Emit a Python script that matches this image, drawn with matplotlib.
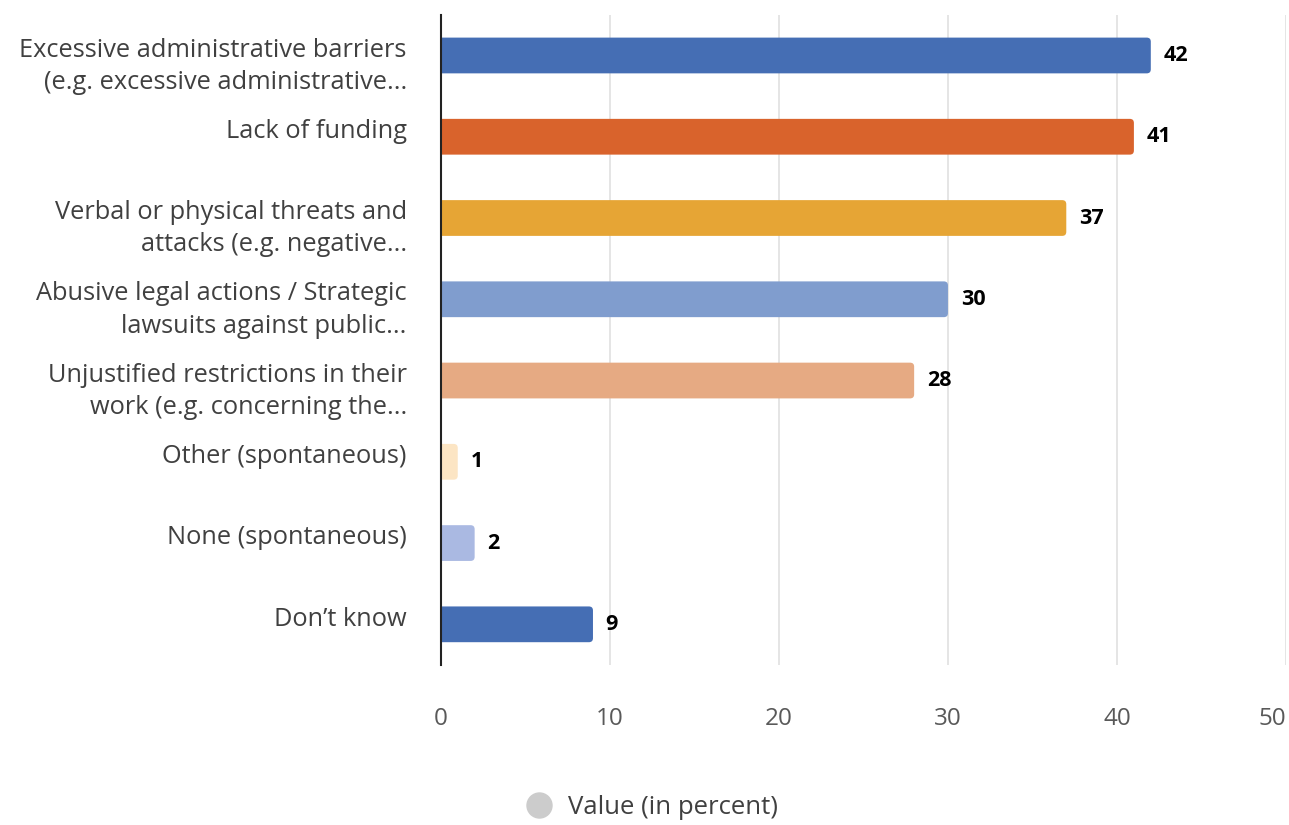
import matplotlib
matplotlib.use("Agg")
import matplotlib.pyplot as plt
import matplotlib.transforms as mtransforms
from matplotlib.lines import Line2D
from matplotlib.patches import FancyBboxPatch

categories = [
    "Excessive administrative barriers\n(e.g. excessive administrative...",
    "Lack of funding",
    "Verbal or physical threats and\nattacks (e.g. negative...",
    "Abusive legal actions / Strategic\nlawsuits against public...",
    "Unjustified restrictions in their\nwork (e.g. concerning the...",
    "Other (spontaneous)",
    "None (spontaneous)",
    "Don\u2019t know",
]
values = [42, 41, 37, 30, 28, 1, 2, 9]
colors = ["#456eb4", "#d9632c", "#e6a535", "#809dce", "#e6aa83",
          "#fce5c4", "#aab9e2", "#456eb4"]
xticks = [0, 10, 20, 30, 40, 50]

plt.rcParams["font.family"] = ["Open Sans", "DejaVu Sans"]

fig = plt.figure(figsize=(12.89, 8.25), dpi=100)
ax = fig.add_axes([0.342, 0.194, 0.6557, 0.788])

y = list(range(len(categories)))
bars = ax.barh(y, values, height=0.44, color=colors, zorder=3)

ax.set_ylim(len(categories) - 0.5, -0.5)
ax.set_xlim(0, 50)

# swap plain bars for ones with slightly rounded ends
aspect = (1 / 81.25) / (1 / 16.9)
for b in bars:
    x0, y0, w, h = b.get_x(), b.get_y(), b.get_width(), b.get_height()
    rb = FancyBboxPatch((x0 - 0.4, y0), w + 0.4, h,
                        boxstyle="round,pad=0,rounding_size=0.24",
                        mutation_aspect=aspect, facecolor=b.get_facecolor(),
                        edgecolor="none", zorder=3)
    ax.add_patch(rb)
    b.set_visible(False)

for yi, v in zip(y, values):
    ax.text(v + 0.75, yi, str(v), va="center", ha="left", fontsize=15.5,
            fontweight="bold", color="#000000", zorder=4)

ax.set_yticks(y)
ax.set_yticklabels(categories, fontsize=18.3, color="#404040", linespacing=1.38)
ax.set_xticks(xticks)
ax.set_xticklabels([str(t) for t in xticks], fontsize=17.5, color="#595959")
ax.get_xticklabels()[-1].set_ha("right")
ax.tick_params(axis="y", length=0, pad=24.5)
ax.tick_params(axis="x", length=0, pad=30)

# labels hang from a point a bit above the bar centre
shift = mtransforms.ScaledTranslation(0, 0.178, fig.dpi_scale_trans)
for lab in ax.get_yticklabels():
    lab.set_va("top")
    lab.set_transform(lab.get_transform() + shift)

ax.grid(axis="x", color="#e0e0e0", linewidth=1.2, zorder=0)
for s in ["top", "right", "bottom"]:
    ax.spines[s].set_visible(False)
ax.spines["left"].set_color("#222222")
ax.spines["left"].set_linewidth(1.5)
ax.spines["left"].set_zorder(5)

handle = Line2D([], [], marker="o", linestyle="none", markersize=18,
                markerfacecolor="#cccccc", markeredgecolor="#cccccc")
fig.legend([handle], ["Value (in percent)"], loc="center",
           bbox_to_anchor=(0.501, 0.021), frameon=False, fontsize=18.5,
           handletextpad=0.15, labelcolor="#404040")

fig.savefig("out.png", dpi=100)
